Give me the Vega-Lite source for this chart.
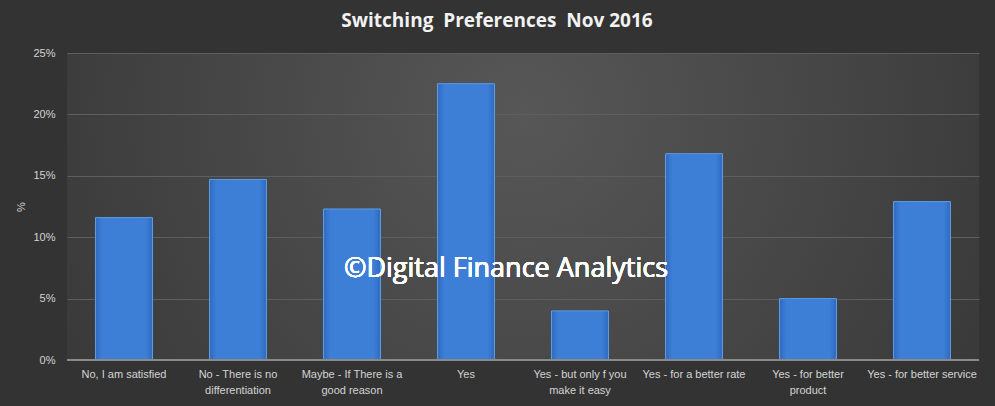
{
  "$schema": "https://vega.github.io/schema/vega-lite/v6.json",
  "autosize": "none",
  "width": 912,
  "height": 307,
  "padding": {"left": 67, "top": 53, "right": 16, "bottom": 46},
  "background": "#333333",
  "title": {
    "text": "Switching\u00a0 Preferences\u00a0 Nov 2016",
    "font": "Open Sans",
    "fontSize": 19,
    "fontWeight": "bold",
    "color": "#f2f2f2",
    "offset": 16,
    "dx": -26
  },
  "config": {
    "view": {
      "stroke": null,
      "fill": {
        "gradient": "radial",
        "x1": 0.5, "y1": 0.4, "r1": 0,
        "x2": 0.5, "y2": 0.4, "r2": 0.75,
        "stops": [
          {"offset": 0, "color": "#575757"},
          {"offset": 1, "color": "#303030"}
        ]
      }
    },
    "axis": {
      "labelFont": "Liberation Sans",
      "labelColor": "#d4d4d4",
      "labelFontSize": 11,
      "titleColor": "#d4d4d4",
      "titleFont": "Liberation Sans",
      "titleFontWeight": "normal"
    }
  },
  "data": {
    "values": [
      {"category": "No, I am satisfied", "value": 11.6},
      {"category": "No - There is no differentiation", "value": 14.7},
      {"category": "Maybe - If There is a good reason", "value": 12.3},
      {"category": "Yes", "value": 22.5},
      {"category": "Yes - but only f you make it easy", "value": 4.0},
      {"category": "Yes - for a better rate", "value": 16.8},
      {"category": "Yes - for better product", "value": 5.0},
      {"category": "Yes - for better service", "value": 12.9}
    ]
  },
  "layer": [
    {
      "mark": {
        "type": "bar",
        "stroke": "#5b9bea",
        "strokeWidth": 1,
        "fill": {
          "gradient": "linear",
          "x1": 0, "y1": 0, "x2": 1, "y2": 0,
          "stops": [
            {"offset": 0, "color": "#2f6bbf"},
            {"offset": 0.12, "color": "#3d7ed6"},
            {"offset": 0.88, "color": "#3d7ed6"},
            {"offset": 1, "color": "#2f6bbf"}
          ]
        }
      },
      "encoding": {
        "x": {
          "field": "category",
          "type": "nominal",
          "sort": null,
          "scale": {"paddingInner": 0.5, "paddingOuter": 0.25},
          "axis": {
            "title": null,
            "labelAngle": 0,
            "ticks": false,
            "domain": false,
            "labelPadding": 8,
            "labelLineHeight": 16,
            "labelExpr": "datum.value == 'No - There is no differentiation' ? ['No - There is no', 'differentiation'] : datum.value == 'Maybe - If There is a good reason' ? ['Maybe - If There is a', 'good reason'] : datum.value == 'Yes - but only f you make it easy' ? ['Yes - but only f you', 'make it easy'] : datum.value == 'Yes - for better product' ? ['Yes - for better', 'product'] : datum.value"
          }
        },
        "y": {
          "field": "value",
          "type": "quantitative",
          "scale": {"domain": [0, 25], "nice": false},
          "axis": {
            "title": "%",
            "titleFontSize": 11,
            "titlePadding": 6,
            "titleAngle": -90,
            "values": [0, 5, 10, 15, 20, 25],
            "labelExpr": "datum.value + '%'",
            "ticks": false,
            "domain": false,
            "labelPadding": 12,
            "gridColor": "#5e5e5e",
            "gridWidth": 1
          }
        }
      }
    },
    {
      "mark": {"type": "rule", "color": "#8a8a8a", "strokeWidth": 1.5},
      "encoding": {"y": {"datum": 0}}
    },
    {
      "mark": {
        "type": "text",
        "text": "©Digital Finance Analytics",
        "font": "Open Sans",
        "fontSize": 27,
        "color": "#ffffff",
        "align": "left",
        "baseline": "middle",
        "dx": -8
      },
      "encoding": {
        "x": {"datum": "Maybe - If There is a good reason"},
        "y": {"datum": 7.4}
      }
    }
  ]
}
